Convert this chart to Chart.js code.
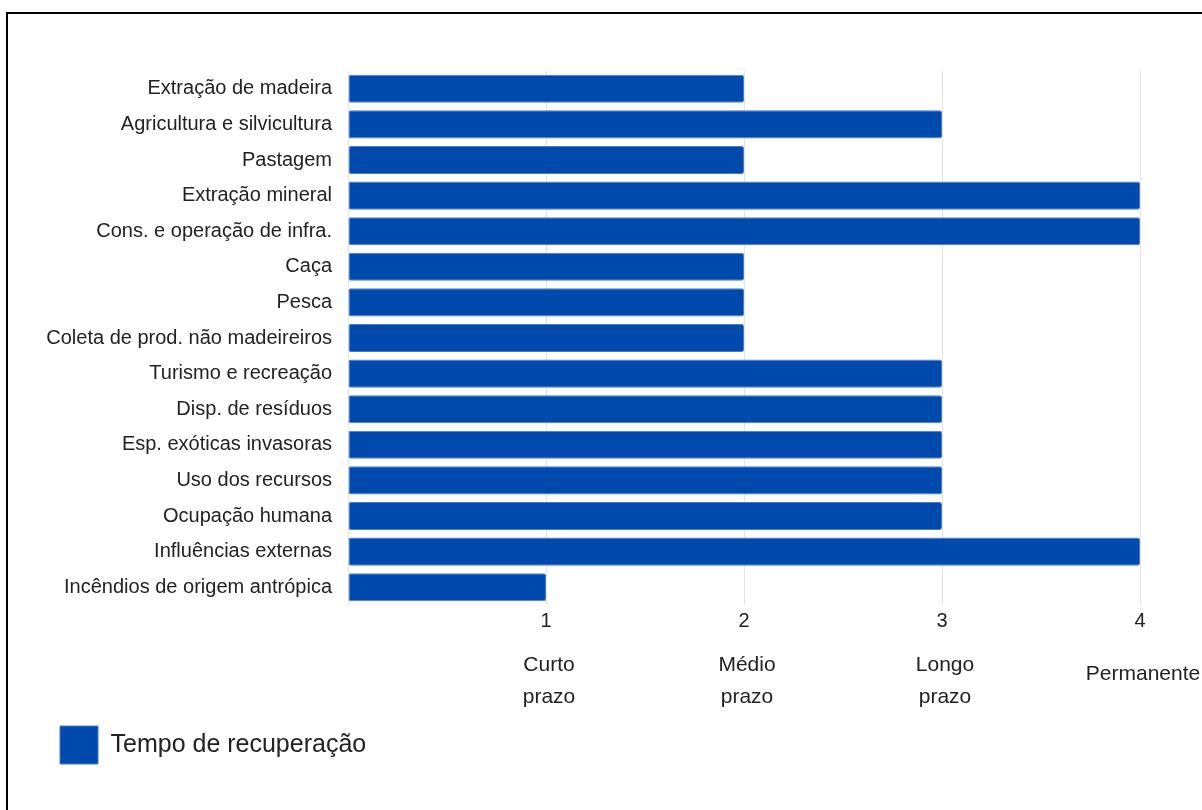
<!DOCTYPE html>
<html lang="pt">
<head>
    <meta charset="UTF-8">
    <title>Tempo de recuperação</title>
    <script src="https://cdn.jsdelivr.net/npm/chart.js"></script>
    <style>
        html, body { margin: 0; padding: 0; background: #fff; overflow: hidden; }
        .moldura {
            position: absolute; left: 6px; top: 12px; width: 1400px; height: 1000px;
            border: 2px solid #000;
        }
        .grafico { position: absolute; left: 0; top: 0; width: 1202px; height: 810px; }
    </style>
</head>
<body>
    <div class="moldura"></div>
    <div class="grafico">
        <canvas id="barras"></canvas>
    </div>
<script>
// dados
const categorias = [
    'Extração de madeira',
    'Agricultura e silvicultura',
    'Pastagem',
    'Extração mineral',
    'Cons. e operação de infra.',
    'Caça',
    'Pesca',
    'Coleta de prod. não madeireiros',
    'Turismo e recreação',
    'Disp. de resíduos',
    'Esp. exóticas invasoras',
    'Uso dos recursos',
    'Ocupação humana',
    'Influências externas',
    'Incêndios de origem antrópica'
];
const tempoRecuperacao = [2, 3, 2, 4, 4, 2, 2, 2, 3, 3, 3, 3, 3, 4, 1];
const valoresEixo = [1, 2, 3, 4];
const rotulosPrazo = [['Curto', 'prazo'], ['Médio', 'prazo'], ['Longo', 'prazo'], ['Permanente']];

const azul = '#004AAD';
const fonte = '"Liberation Sans", Arial, sans-serif';

// escreve "Curto prazo" etc. embaixo dos números do eixo
const rotulosExtra = {
    id: 'rotulosExtra',
    afterDraw(chart) {
        const ctx = chart.ctx;
        const x = chart.scales.x;
        const base = chart.chartArea.bottom;
        ctx.save();
        ctx.font = '21px ' + fonte;
        ctx.fillStyle = '#222';
        ctx.textAlign = 'center';
        ctx.textBaseline = 'middle';
        for (let i = 0; i < valoresEixo.length; i++) {
            const px = x.getPixelForValue(valoresEixo[i]) + 3;
            const linhas = rotulosPrazo[i];
            if (linhas.length == 1) {
                ctx.fillText(linhas[0], px, base + 69);
            } else {
                ctx.fillText(linhas[0], px, base + 60);
                ctx.fillText(linhas[1], px, base + 92);
            }
        }
        ctx.restore();
    }
};

Chart.defaults.font.family = fonte;
Chart.defaults.color = '#222';

new Chart(document.getElementById('barras').getContext('2d'), {
    type: 'bar',
    data: {
        labels: categorias,
        datasets: [{
            label: 'Tempo de recuperação',
            data: tempoRecuperacao,
            backgroundColor: azul,
            borderColor: '#4C7BC6',
            borderWidth: 1,
            borderRadius: 2,
            borderSkipped: false,
            categoryPercentage: 1,
            barPercentage: 0.79
        }]
    },
    options: {
        indexAxis: 'y',
        responsive: true,
        maintainAspectRatio: false,
        animation: false,
        layout: { padding: { top: 71, left: 30, right: 62, bottom: 36 } },
        plugins: {
            tooltip: { enabled: false },
            legend: {
                position: 'bottom',
                align: 'start',
                labels: {
                    boxWidth: 38,
                    boxHeight: 38,
                    padding: 30,
                    color: '#222',
                    font: { size: 25 }
                }
            }
        },
        scales: {
            x: {
                min: 0,
                max: 4,
                afterFit(axis) { axis.height = 91; },
                border: { display: false },
                grid: { color: '#e3e3e3', lineWidth: 1, drawTicks: false },
                ticks: {
                    stepSize: 1,
                    padding: 4,
                    font: { size: 20 },
                    color: '#222',
                    callback: v => (v == 0 ? '' : v)
                }
            },
            y: {
                afterFit(axis) { axis.width = 318; },
                border: { display: false },
                grid: { display: false, drawTicks: false },
                ticks: {
                    padding: 16,
                    font: { size: 20 },
                    color: '#222'
                }
            }
        }
    },
    plugins: [rotulosExtra]
});
</script>
</body>
</html>
